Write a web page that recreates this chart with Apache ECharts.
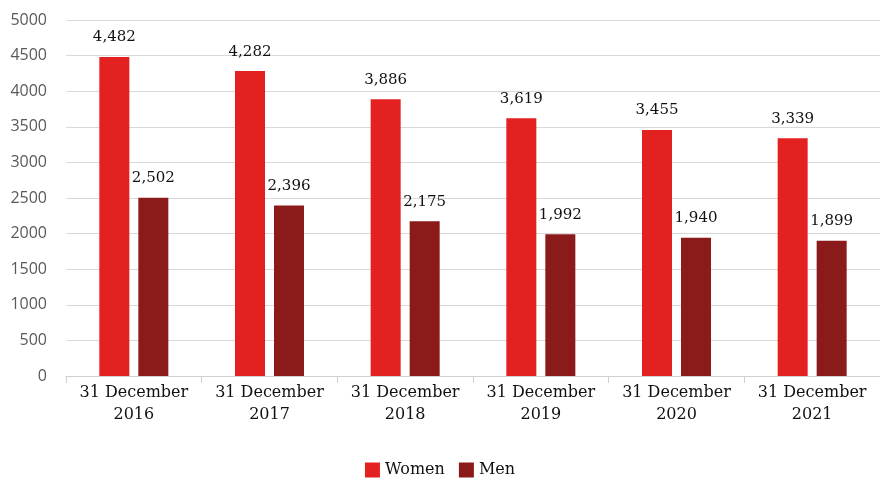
<!DOCTYPE html>
<html>
<head>
<meta charset="utf-8">
<script src="https://cdn.jsdelivr.net/npm/echarts@6/dist/echarts.min.js"></script>
<style>
  html, body { margin: 0; padding: 0; background: #fff; }
  #chart { width: 880px; height: 480px; }
</style>
</head>
<body>
<div id="chart"></div>
<script>
// data
const categories = ['31 December\n2016', '31 December\n2017', '31 December\n2018',
  '31 December\n2019', '31 December\n2020', '31 December\n2021']
const women = [4482, 4282, 3886, 3619, 3455, 3339]
const men = [2502, 2396, 2175, 1992, 1940, 1899]

const serif = 'DejaVu Serif'

const chart = echarts.init(document.getElementById('chart'))

const labelOpt = {
  show: true,
  position: 'top',
  distance: 12,
  color: '#111',
  fontFamily: serif,
  fontSize: 15,
  formatter: p => p.value.toLocaleString('en-US')
}

chart.setOption({
  animation: false,
  grid: {
    left: 66,
    right: 0,
    top: 20,
    bottom: 104
  },
  legend: {
    top: 462,
    left: 'center',
    itemWidth: 15,
    itemHeight: 15,
    itemGap: 14,
    padding: 0,
    icon: 'rect',
    textStyle: { fontFamily: serif, fontSize: 16, color: '#111' },
    data: ['Women', 'Men']
  },
  xAxis: {
    type: 'category',
    data: categories,
    axisLine: { lineStyle: { color: '#d0d0d0' } },
    axisTick: { show: true, length: 7, lineStyle: { color: '#d0d0d0' } },
    axisLabel: {
      interval: 0,
      hideOverlap: false,
      fontFamily: serif,
      fontSize: 16,
      color: '#111',
      lineHeight: 22,
      margin: 6
    }
  },
  yAxis: {
    type: 'value',
    min: 0,
    max: 5000,
    interval: 500,
    axisLine: { show: false },
    axisTick: { show: false },
    axisLabel: {
      fontFamily: 'Open Sans',
      fontSize: 16,
      color: '#595959',
      margin: 19,
      formatter: v => String(v)
    },
    splitLine: { lineStyle: { color: '#d9d9d9' } }
  },
  series: [
    {
      name: 'Women',
      type: 'bar',
      data: women,
      barWidth: 30,
      barGap: '30%',
      itemStyle: { color: '#e32120' },
      label: labelOpt
    },
    {
      name: 'Men',
      type: 'bar',
      data: men,
      barWidth: 30,
      itemStyle: { color: '#8b1a1a' },
      label: labelOpt
    }
  ]
})
</script>
</body>
</html>
